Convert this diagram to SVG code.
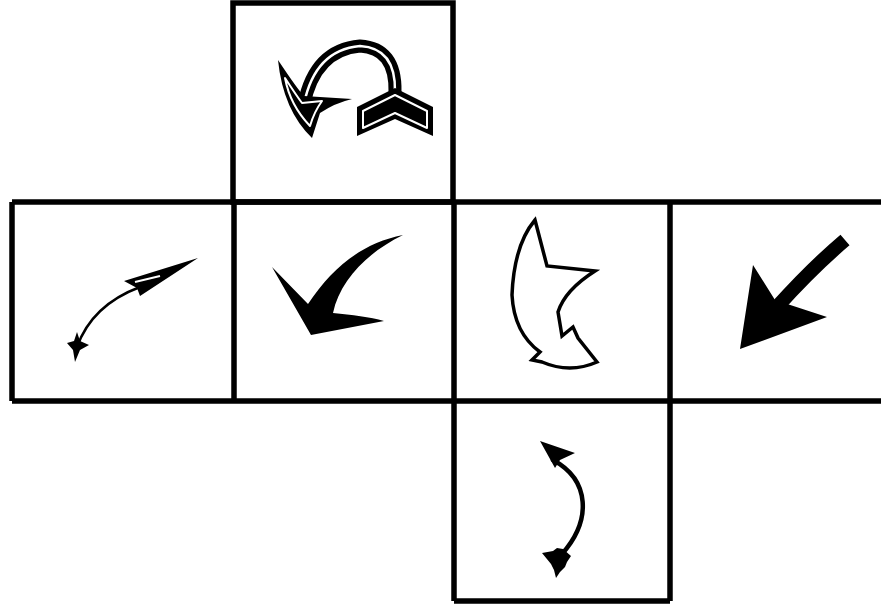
<svg xmlns="http://www.w3.org/2000/svg" width="881" height="607" viewBox="0 0 881 607">
<style>
.box{fill:none;stroke:#000;stroke-width:5.5;stroke-linejoin:miter}
.blk{fill:#000;stroke:none}
.wl{fill:none;stroke:#fff;stroke-width:2;stroke-linejoin:round}
.ln{fill:none;stroke:#000;stroke-linecap:round}
</style>
<rect width="881" height="607" fill="#fff"/>
<g id="grid">
<rect class="box" x="233" y="3" width="220" height="199"/>
<path class="box" d="M12 202 H881 M12 401 H881 M12 202 V401 M234 202 V401 M454 202 V601 M670 202 V601 M454 601 H670"/>
</g>
<g id="cell-top">
<path d="M304 104 Q315 50 360 46 Q396 48 395 92" fill="none" stroke="#000" stroke-width="13"/>
<path d="M304 104 Q315 50 360 46 Q396 48 395 92" fill="none" stroke="#fff" stroke-width="2.5"/>
<path class="blk" d="M278 60 Q298 90 304 96 L352 99 Q335 103 320 113 L312 138 Q283 110 278 60 Z"/>
<path class="wl" d="M285 78 Q296 95 302 103 L322 101 Q314 112 310 126 Q290 105 285 78 Z"/>
<path class="blk" d="M357 107 L395 88 L433 107 L433 136 L395 119 L357 136 Z"/>
<path class="wl" d="M363 111 L395 95 L427 111 L427 128 L395 113 L363 128 Z"/>
</g>
<g id="cell-left">
<path class="ln" stroke-width="2.5" d="M77 347 Q92 305 140 287"/>
<path class="blk" d="M124 281 L198 258 L140 296 L137 288 Z"/>
<path class="wl" stroke-width="1.5" d="M135 282 L160 276"/>
<path class="blk" d="M67 343 L74 341 L77 332 L80 341 L89 345 L80 350 L75 362 L73 350 Z"/>
</g>
<g id="cell-center">
<path class="blk" d="M272 267 L308 304 C332 268 362 243 403 235 C368 252 340 280 333 313 C352 315 370 317 384 321 L311 335 Z"/>
</g>
<g id="cell-right1">
<path d="M535 220 L547 266 L595 271 Q565 290 558 312 L562 336 L573 327 L578 338 L597 362 Q570 374 542 362 L532 360 L540 352 Q514 333 512 295 Q514 245 535 220 Z" fill="#fff" stroke="#000" stroke-width="3.5" stroke-linejoin="miter"/>
</g>
<g id="cell-right2">
<path d="M845 240 Q812 268 776 308" fill="none" stroke="#000" stroke-width="14"/>
<path class="blk" d="M753 265 L775 300 L827 317 L740 349 Z"/>
</g>
<g id="cell-bottom">
<path class="ln" stroke-width="4.5" d="M562 554 C592 520 590 480 553 460"/>
<path class="blk" d="M540 441 L575 453 L560 460 L555 468 Z"/>
<path class="blk" d="M542 553 L553 551 L557 548 L563 549 L571 556 L567 562 L565 567 L560 572 L556 578 L554 570 L551 564 Z"/>
</g>
</svg>
